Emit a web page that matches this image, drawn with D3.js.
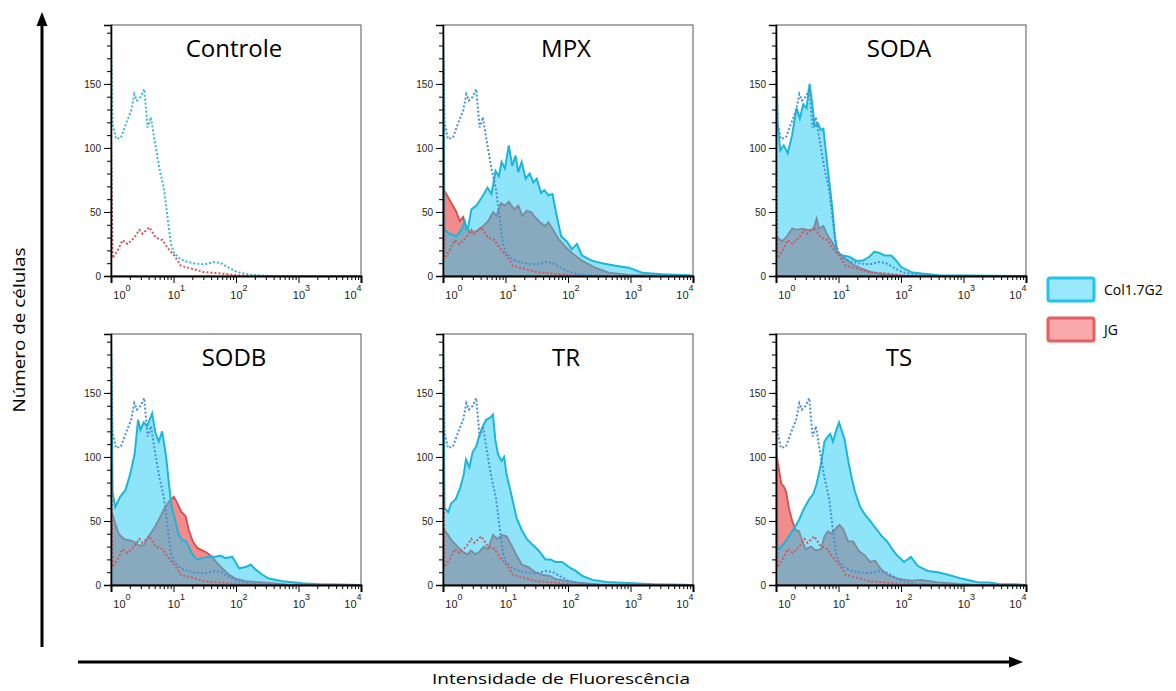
<!DOCTYPE html>
<html>
<head>
<meta charset="utf-8">
<script src="https://cdn.jsdelivr.net/npm/d3@7"></script>
<style>
  body { margin: 0; background: #fff; }
  svg { display: block; font-family: "Liberation Sans", Arial, sans-serif; }
</style>
</head>
<body>
<div id="chart"></div>
<script>
// Histogramas de citometria: Col1.7G2 vs JG, controle pontilhado em todos os paineis
var panels = ["Controle", "MPX", "SODA", "SODB", "TR", "TS"];
var legendLabels = ["Col1.7G2", "JG"];
var yMajorTicks = [0, 50, 100, 150];
var decades = [1, 10, 100, 1000, 10000];

// [intensidade, numero de celulas]
var ctrlCol = [[1,190],[1.06,119],[1.2,107],[1.44,108],[1.74,119],[2.1,129],[2.36,142],[2.6,137],[3.0,140],[3.4,146],[3.85,116],[4.35,124],[4.9,108],[5.9,85],[7.1,67],[8.0,46],[9.1,25],[10.2,18],[13,13],[16.7,11],[21,10],[31,9],[45,11],[57,10],[73,7],[105,3],[171,1],[357,0],[10000,0]];
var ctrlJG = [[1,110],[1.06,14],[1.28,20],[1.53,28],[1.84,25],[2.36,30],[2.83,36],[3.2,33],[4.09,38],[5.22,30],[6.67,28],[8.02,22],[10.3,16],[13.1,8],[18.9,6],[30.9,3],[57,2],[105,0.5],[219,0],[10000,0]];

var mpxCol = [[1,189],[1.06,36],[1.28,33],[1.64,31],[1.97,36],[2.23,43],[2.46,35],[2.85,52],[3.43,55],[4.4,63],[5.15,69],[5.97,64],[6.93,82],[7.84,78],[8.65,89],[9.8,84],[11.3,102],[12.8,86],[14.5,94],[16,81],[18.1,89],[21,76],[24.4,80],[27.9,73],[31.6,76],[37,65],[41.9,67],[48.6,63],[56.4,64],[66,47],[77.6,31],[95.8,27],[115,21],[139,25],[167,16],[241,12],[350,10],[573,8],[938,6.5],[1535,2.6],[3215,1.3],[8630,0.5],[10000,0]];
var mpxJG = [[1,68],[1.13,64],[1.36,57],[1.64,50],[1.85,43],[2.1,46],[2.37,37],[2.85,34],[3.43,35],[4.4,39],[5.28,43],[6.36,50],[7.19,47],[8.44,57],[9.8,55],[11.3,58],[13.8,52],[16,55],[18.6,47],[21.8,51],[25.6,50],[29.7,46],[35.7,42],[43,39],[48.6,42],[56.4,37],[70.3,29],[90,23],[115,18],[167,12],[273,6.5],[448,2.6],[938,0.8],[4100,0],[10000,0]];

var sodaCol = [[1,189],[1.06,120],[1.17,98],[1.33,102],[1.54,96],[1.81,110],[2.13,131],[2.41,123],[2.72,134],[3.08,131],[3.45,150],[3.81,134],[4.15,117],[4.7,119],[5.19,114],[5.73,115],[6.65,86],[7.34,68],[8.0,52],[8.73,31],[9.64,18],[11.6,16],[14.9,15],[19,12],[24.4,12],[31.2,15],[37.6,19],[45.3,18],[54.5,16],[69.8,16],[84,12],[101,7],[147,3],[213,2],[395,0.5],[10000,0]];
var sodaJG = [[1,31],[1.25,27],[1.5,31],[1.81,37],[2.18,36],[2.63,37],[3.16,36],[3.95,36],[4.47,45],[4.88,37],[5.73,39],[6.65,32],[8.0,26],[9.64,19],[12.3,14],[15.8,10],[22.9,6],[33.2,3],[54.5,1.3],[115,0],[10000,0]];

var sodbCol = [[1,189],[1.06,72],[1.17,61],[1.41,69],[1.7,74],[2.04,87],[2.4,103],[2.71,129],[2.96,121],[3.34,127],[3.78,124],[4.55,134],[5.14,119],[5.82,112],[6.58,120],[7.62,100],[8.42,80],[9.29,61],[10.5,52],[11.9,40],[13.8,35],[16,34],[18.7,27],[21.2,22],[24,20],[28.8,21],[36.9,22],[47.2,22],[56.8,23],[68.2,21],[87.3,22],[112,13],[143,14],[172,16],[207,12],[264,8],[338,5],[553,3],[1159,1.3],[2148,0.5],[10000,0]];
var sodbJG = [[1,59],[1.17,48],[1.33,40],[1.6,36],[1.92,35],[2.31,34],[2.78,31],[3.34,31],[4.02,38],[4.84,44],[5.82,51],[7.0,59],[8.42,65],[10.1,69],[11.5,64],[13.4,57],[15.6,54],[17.6,43],[20.4,34],[24,29],[28.8,27],[34.7,25],[41.7,22],[50.1,17],[60.3,13],[77.2,8],[98.8,5],[143,3],[264,2],[626,0.5],[10000,0]];

var trCol = [[1,190],[1.06,60],[1.21,57],[1.36,64],[1.6,67],[1.89,76],[2.14,86],[2.33,98],[2.64,92],[2.99,104],[3.39,108],[3.84,117],[4.34,124],[4.92,129],[5.78,131],[6.31,133],[6.88,113],[7.6,102],[8.61,97],[9.5,100],[10.4,86],[11.7,76],[13.3,64],[15.1,52],[18.2,43],[21.9,36],[26.4,32],[33.9,27],[43.5,20],[52.4,20],[63.1,18],[80.9,18],[104,14],[133,11],[171,7],[248,4],[408,2.4],[1104,1.3],[2333,0.5],[10000,0]];
var trJG = [[1,44],[1.17,40],[1.42,34],[1.71,30],[2.06,26],[2.48,24],[2.81,27],[3.26,24],[3.84,26],[4.51,30],[5.24,28],[6.31,39],[7.42,36],[8.83,39],[10.4,38],[12.5,31],[15.1,23],[18.2,16],[23.3,14],[29.9,10],[38.4,8],[52.4,7],[63.1,4.5],[91.6,3.2],[133,2],[318,0.5],[10000,0]];

var tsCol = [[1,189],[1.05,30],[1.1,28],[1.33,32],[1.61,38],[1.94,44],[2.34,51],[2.82,60],[3.4,67],[3.95,71],[4.47,79],[5.26,95],[5.96,112],[6.75,116],[7.36,118],[8.14,112],[9.22,121],[10.2,127],[11.2,121],[12.6,113],[14.3,97],[16.2,84],[18.3,73],[22.1,61],[26.6,55],[32.1,50],[41.2,43],[49.7,38],[60,34],[72.3,28],[87.1,23],[112,18],[144,22],[184,15],[268,11],[390,10],[566,8],[933,5],[1742,2],[2535,2],[3681,0.8],[6871,0.5],[10000,0]];
var tsJG = [[1,104],[1.1,92],[1.22,79],[1.33,77],[1.45,73],[1.61,60],[1.82,50],[2.06,43],[2.34,42],[2.65,34],[3.0,28],[3.61,30],[4.36,27],[5.26,28],[5.96,38],[6.75,42],[7.65,40],[8.99,44],[10.4,47],[12.1,43],[14.3,34],[17.2,34],[20.8,27],[26.6,23],[32.1,18],[38.7,19],[46.7,13],[60,8],[87.1,5],[144,3.4],[209,4],[390,2],[824,0.8],[1742,0],[10000,0]];

var samples = {
    "MPX": [mpxCol, mpxJG],
    "SODA": [sodaCol, sodaJG],
    "SODB": [sodbCol, sodbJG],
    "TR": [trCol, trJG],
    "TS": [tsCol, tsJG]
};

var width = 1176, height = 691;
var colLeft = [111, 443, 776], rowTop = [25, 334];
var pw = 250, ph = 251;

var svg = d3.select("#chart").append("svg")
    .attr("width", width)
    .attr("height", height);

var xScale = d3.scaleLog().domain([1, 10000]).range([0, pw]);
var yScale = d3.scaleLinear().domain([0, 196]).range([ph, 0]);

var area = d3.area()
    .x(function(d) { return xScale(d[0]); })
    .y0(yScale(0))
    .y1(function(d) { return yScale(d[1]); });
var line = d3.line()
    .x(function(d) { return xScale(d[0]); })
    .y(function(d) { return yScale(d[1]); });

// minor ticks
var xMinor = [];
decades.slice(0, 4).forEach(function(d) {
    for (var k = 2; k <= 9; k++) xMinor.push(d * k);
});
var yMinor = d3.range(0, 191, 10);

panels.forEach(function(name, i) {
    var left = colLeft[i % 3], top = rowTop[Math.floor(i / 3)];
    var g = svg.append("g").attr("transform", "translate(" + left + "," + top + ")");

    g.append("clipPath").attr("id", "clip" + i)
      .append("rect").attr("width", pw).attr("height", ph);

    var plot = g.append("g").attr("clip-path", "url(#clip" + i + ")");

    if (samples[name]) {
        var col = samples[name][0], jg = samples[name][1];
        plot.append("path").datum(jg)
            .attr("d", area)
            .attr("fill", "#f28b8b");
        plot.append("path").datum(jg)
            .attr("d", line)
            .attr("fill", "none")
            .attr("stroke", "#d84c4c")
            .attr("stroke-width", 1.8);
        plot.append("path").datum(col)
            .attr("d", area)
            .attr("fill", "rgb(29,201,241)")
            .attr("fill-opacity", 0.5);
        plot.append("path").datum(col)
            .attr("d", line)
            .attr("fill", "none")
            .attr("stroke", "#1cb6d9")
            .attr("stroke-width", 2);
    }

    // controle pontilhado
    plot.append("path").datum(ctrlJG)
        .attr("d", line)
        .attr("fill", "none")
        .attr("stroke", "#cf5a5e")
        .attr("stroke-width", 2)
        .attr("stroke-dasharray", "2,2");
    plot.append("path").datum(ctrlCol)
        .attr("d", line)
        .attr("fill", "none")
        .attr("stroke", i === 0 ? "#38bccc" : "#4a8fd4")
        .attr("stroke-width", 2)
        .attr("stroke-dasharray", "2,2");

    // moldura
    g.append("rect")
        .attr("width", pw).attr("height", ph)
        .attr("fill", "none")
        .attr("stroke", "#555")
        .attr("stroke-width", 1);

    // eixo y
    g.append("g")
        .call(d3.axisLeft(yScale).tickValues(yMinor).tickSize(4).tickFormat(""))
        .call(function(a) { a.select(".domain").remove(); });
    var ya = g.append("g")
        .call(d3.axisLeft(yScale).tickValues(yMajorTicks).tickSize(7).tickPadding(3));
    ya.select(".domain").attr("stroke-width", 1.6);
    ya.selectAll("text").style("font-size", "10px").attr("fill", "#222");

    // eixo x
    g.append("g")
        .attr("transform", "translate(0," + ph + ")")
        .call(d3.axisBottom(xScale).tickValues(xMinor).tickSize(4).tickFormat(""))
        .call(function(a) { a.select(".domain").remove(); });
    var xa = g.append("g")
        .attr("transform", "translate(0," + ph + ")")
        .call(d3.axisBottom(xScale).tickValues(decades).tickSize(7).tickFormat(""));
    xa.select(".domain").attr("stroke-width", 2);

    var labelShift = [11, 3, 3, 3, -8];
    decades.forEach(function(d, k) {
        var t = g.append("text")
            .attr("x", xScale(d) + labelShift[k])
            .attr("y", ph + 23)
            .attr("text-anchor", "middle")
            .style("font-size", "11px")
            .attr("fill", "#222");
        t.append("tspan").text("10");
        t.append("tspan").attr("dy", -8).style("font-size", "9px").text(Math.round(Math.log10(d)));
    });

    // titulo
    g.append("text")
        .attr("x", pw / 2 - 2)
        .attr("y", 32)
        .attr("text-anchor", "middle")
        .style("font-family", "'Open Sans', sans-serif")
        .style("font-size", "24px")
        .text(name);
});

// setas dos eixos
svg.append("line")
    .attr("x1", 42).attr("y1", 647).attr("x2", 42).attr("y2", 24)
    .attr("stroke", "#000").attr("stroke-width", 3);
svg.append("path")
    .attr("d", "M42,12 L36.5,26 L47.5,26 Z")
    .attr("fill", "#000");
svg.append("line")
    .attr("x1", 78).attr("y1", 662).attr("x2", 1010).attr("y2", 662)
    .attr("stroke", "#000").attr("stroke-width", 3);
svg.append("path")
    .attr("d", "M1023,662 L1009,656.5 L1009,667.5 Z")
    .attr("fill", "#000");

svg.append("text")
    .attr("transform", "translate(25,330) rotate(-90)")
    .attr("text-anchor", "middle")
    .style("font-family", "'Open Sans', sans-serif")
    .style("font-size", "16px")
    .attr("textLength", 165)
    .attr("lengthAdjust", "spacingAndGlyphs")
    .text("Número de células");
svg.append("text")
    .attr("x", 561)
    .attr("y", 684)
    .attr("text-anchor", "middle")
    .style("font-family", "'Open Sans', sans-serif")
    .style("font-size", "15px")
    .attr("textLength", 258)
    .attr("lengthAdjust", "spacingAndGlyphs")
    .text("Intensidade de Fluorescência");

// legenda
var legFill = ["#99e8fb", "#f9a9a9"], legStroke = ["#22c3ee", "#e45f5f"];
var legend = svg.selectAll(".legend")
    .data(legendLabels)
    .enter().append("g")
    .attr("class", "legend")
    .attr("transform", function(d, i) { return "translate(1048," + (278 + i * 40) + ")"; });
legend.append("rect")
    .attr("width", 46).attr("height", 23).attr("rx", 2)
    .attr("fill", function(d, i) { return legFill[i]; })
    .attr("stroke", function(d, i) { return legStroke[i]; })
    .attr("stroke-width", 3);
legend.append("text")
    .attr("x", 56).attr("y", 17)
    .style("font-family", "'Open Sans', sans-serif")
    .style("font-size", "14px")
    .text(function(d) { return d; });
</script>
</body>
</html>
